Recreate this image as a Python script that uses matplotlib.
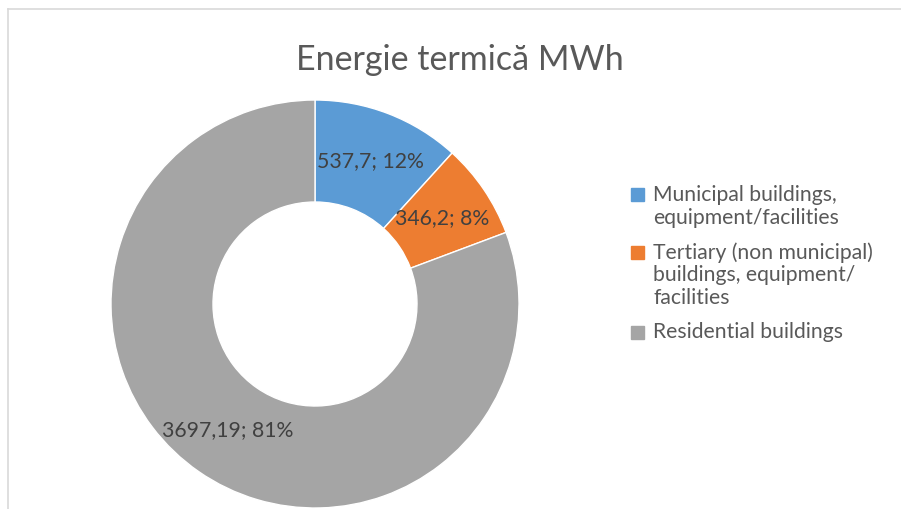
import matplotlib.pyplot as plt
import numpy as np
from matplotlib.lines import Line2D
from matplotlib.patches import Rectangle

# data
categories = [
    "Municipal buildings,\nequipment/facilities",
    "Tertiary (non municipal)\nbuildings, equipment/\nfacilities",
    "Residential buildings",
]
values = [537.7, 346.2, 3697.19]
value_labels = ["537,7", "346,2", "3697,19"]
colors = ["#5B9BD5", "#ED7D31", "#A5A5A5"]
title = "Energie termică MWh"

W, H = 901, 509
FONT = ["Lato", "DejaVu Sans"]


def main():
    plt.rcParams["font.family"] = FONT
    fig = plt.figure(figsize=(W / 100, H / 100), dpi=100)

    # chart border (only top and left edges are visible in the crop)
    fig.add_artist(Line2D([8 / W, 1], [1 - 9 / H, 1 - 9 / H], color="#D9D9D9", lw=1.2))
    fig.add_artist(Line2D([8 / W, 8 / W], [0, 1 - 9 / H], color="#D9D9D9", lw=1.2))

    # donut: centre (315, 304) px, outer radius 204 px
    cx, cy, r = 315, H - 304, 204
    ax = fig.add_axes([(cx - r) / W, (cy - r) / H, 2 * r / W, 2 * r / H])
    ax.pie(
        values,
        colors=colors,
        startangle=90,
        counterclock=False,
        radius=1,
        wedgeprops=dict(width=0.5, edgecolor="white", linewidth=1),
    )

    # data labels centred in the ring
    total = sum(values)
    start = 90.0
    for v, lab in zip(values, value_labels):
        frac = v / total
        mid = np.deg2rad(start - frac * 180)
        start -= frac * 360
        ax.text(
            0.75 * np.cos(mid),
            0.75 * np.sin(mid),
            f"{lab}; {round(frac * 100):d}%",
            ha="center",
            va="center",
            fontsize=15.3,
            color="#404040",
        )
    ax.set_xlim(-1, 1)
    ax.set_ylim(-1, 1)
    ax.axis("off")

    fig.text(460 / W, 1 - 60 / H, title, ha="center", va="center", fontsize=24.5, color="#595959")

    # legend drawn by hand so the swatch lines up with the first text line
    y = 195
    line_h = 22.5
    for label, color in zip(categories, colors):
        fig.add_artist(
            Rectangle((631 / W, 1 - (y + 6.5) / H), 13 / W, 13 / H, color=color, transform=fig.transFigure)
        )
        for k, line in enumerate(label.split("\n")):
            fig.text(653 / W, 1 - (y + k * line_h) / H, line, ha="left", va="center",
                     fontsize=15.2, color="#595959")
        y += (label.count("\n") + 1) * line_h + 12.5

    fig.savefig("out.png", dpi=100)


if __name__ == "__main__":
    main()
